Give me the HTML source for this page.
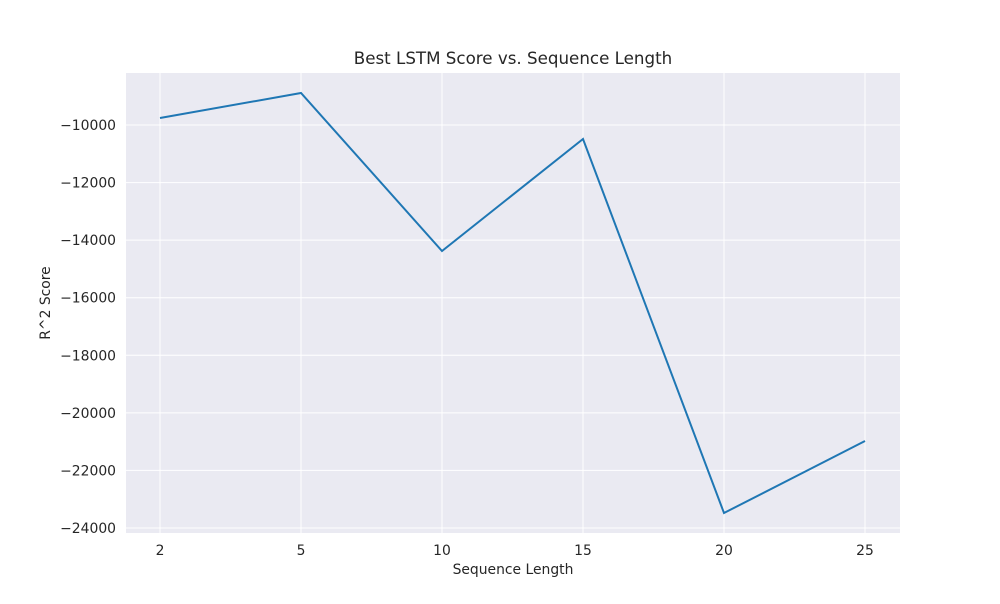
<!DOCTYPE html>
<html><head><meta charset="utf-8"><style>
body{margin:0;background:#fff;font-family:"DejaVu Sans","Liberation Sans",sans-serif}
</style></head><body>
<svg width="1000" height="600" xmlns="http://www.w3.org/2000/svg" font-family="DejaVu Sans, Liberation Sans, sans-serif">
<rect x="126" y="73" width="774" height="460" fill="#eaeaf2"/>
<g id="grid"></g>
<g id="ticks" font-size="13.9" fill="#262626"></g>
<polyline id="line" fill="none" stroke="#1f77b4" stroke-width="2"/>
<text x="513" y="64" text-anchor="middle" font-size="16.7" fill="#262626">Best LSTM Score vs. Sequence Length</text>
<text x="513" y="574" text-anchor="middle" font-size="13.9" fill="#262626">Sequence Length</text>
<text transform="translate(50,303) rotate(-90)" text-anchor="middle" font-size="13.9" fill="#262626">R^2 Score</text>
</svg>
<script>
const categories=["2","5","10","15","20","25"];
const scores=[-9757,-8888,-14377,-10486,-23479,-20977];
const yTicks=[-10000,-12000,-14000,-16000,-18000,-20000,-22000,-24000];
const x0=160,dx=141;
function xs(i){return x0+i*dx;}
function ys(v){return 125+(-10000-v)*(403/14000);}
const ns="http://www.w3.org/2000/svg";
const grid=document.getElementById('grid'),ticks=document.getElementById('ticks');
function mk(t,a,p){const e=document.createElementNS(ns,t);for(const k in a)e.setAttribute(k,a[k]);p.appendChild(e);return e;}
categories.forEach((c,i)=>{
 const l=mk('line',{x1:xs(i),x2:xs(i),y1:73,y2:533,stroke:'#fff','stroke-width':1},grid);
 
 
 const t=mk('text',{x:xs(i),y:555,'text-anchor':'middle'},ticks);t.textContent=c;
 
 
});
yTicks.forEach(v=>{
 const l=mk('line',{x1:126,x2:900,y1:ys(v),y2:ys(v),stroke:'#fff','stroke-width':1},grid);
 
 
 const t=mk('text',{x:116,y:ys(v)+5,'text-anchor':'end'},ticks);t.textContent='\u2212'+Math.abs(v);
 
 
});
document.getElementById('line').setAttribute('points',scores.map((v,i)=>xs(i)+','+ys(v)).join(' '));
</script>
</body></html>
